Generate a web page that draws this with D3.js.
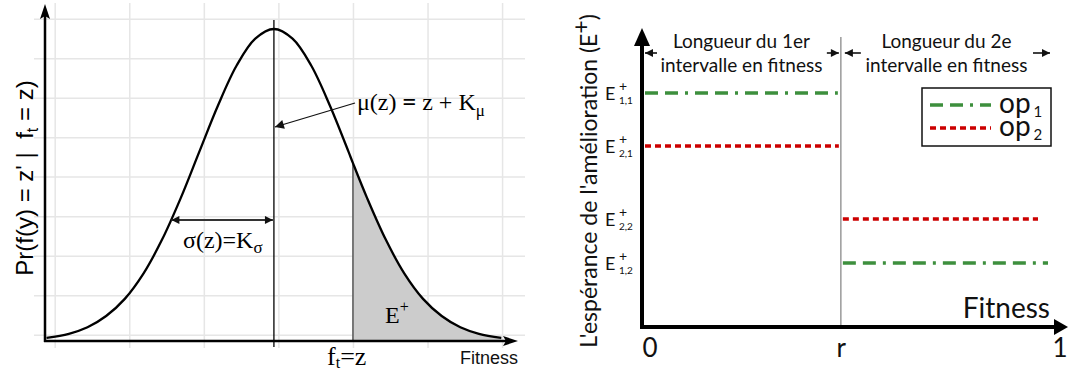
<!DOCTYPE html>
<html>
<head>
<meta charset="utf-8">
<script src="https://cdn.jsdelivr.net/npm/d3@7"></script>
<style>
  body { margin: 0; background: #fff; }
  svg { display: block; }
  text { white-space: pre; }
  .serif { font-family: "Liberation Serif", "DejaVu Serif", serif; }
  .sans { font-family: "Liberation Sans", Arial, sans-serif; }
  .cal { font-family: Lato, "Open Sans", sans-serif; }
  .grid line { stroke: #e6e6e6; stroke-width: 1.5; }
  .grid .domain { display: none; }
</style>
</head>
<body>
<svg id="chart" width="1068" height="373"></svg>
<script>
// ---- left panel: density of the offspring fitness (x in sigma units, mean = 0)
const fitX = [-3.05, -2.75, -2.5, -2.25, -2, -1.75, -1.5, -1.25, -1, -0.75, -0.5, -0.25, 0,
              0.25, 0.5, 0.75, 1, 1.06, 1.25, 1.5, 1.75, 2, 2.25, 2.5, 2.75, 3.05];
const density = [0.01, 0.023, 0.044, 0.08, 0.135, 0.216, 0.325, 0.458, 0.607, 0.755, 0.883, 0.969, 1,
                 0.969, 0.883, 0.755, 0.607, 0.57, 0.458, 0.325, 0.216, 0.135, 0.08, 0.044, 0.023, 0.01];
const meanFit = 0;
const ftFit = 1.06;
const sigmaFit = -1.375, sigmaLevel = 0.388;
const gridX = [-2.94, -1.94, -0.94, 0.06, 1.06, 2.06, 3.06];
const gridY = [0.02, 0.147, 0.273, 0.4, 0.527, 0.653, 0.78, 0.906, 1.033];

// ---- right panel: expected improvement of each operator on two fitness intervals
const bounds = [0, 0.485, 1];
const boundLabels = ["0", "r", "1"];
const op1 = [0.807, 0.221];
const op2 = [0.624, 0.372];
const opNames = ["op", "op"];
const intervalText = [["Longueur du 1er", "intervalle en fitness"], ["Longueur du 2e", "intervalle en fitness"]];

const svg = d3.select("#chart");
const defs = svg.append("defs");
function marker(id, w, h) {
  defs.append("marker").attr("id", id).attr("viewBox", "0 0 10 10")
    .attr("refX", 10).attr("refY", 5).attr("markerWidth", w).attr("markerHeight", h)
    .attr("markerUnits", "userSpaceOnUse").attr("orient", "auto-start-reverse")
    .append("path").attr("d", "M0,0 L10,5 L0,10 z").attr("fill", "#111");
}
marker("ah", 12, 9);
marker("ahs", 9, 8);

// ================= LEFT =================
const xL = d3.scaleLinear().domain([-3.07, 3.26]).range([45, 517]);
const yL = d3.scaleLinear().domain([0, 1]).range([341, 29]);

svg.append("g").attr("class", "grid").attr("transform", "translate(34,0)")
  .call(d3.axisLeft(yL).tickValues(gridY).tickSize(-491).tickFormat(""));
svg.append("g").attr("class", "grid").attr("transform", "translate(0,348)")
  .call(d3.axisBottom(xL).tickValues(gridX).tickSize(-345).tickFormat(""));

const pts = fitX.map((x, i) => ({ x: x, y: density[i] }));
const tail = pts.filter(d => d.x >= ftFit);

svg.append("path").datum(tail)
  .attr("d", d3.area().x(d => xL(d.x)).y0(yL(0)).y1(d => yL(d.y)).curve(d3.curveCatmullRom))
  .attr("fill", "#cccccc");

svg.append("line").attr("x1", xL(ftFit)).attr("x2", xL(ftFit))
  .attr("y1", yL(tail[0].y)).attr("y2", yL(0)).attr("stroke", "#555").attr("stroke-width", 1.5);

svg.append("line").attr("x1", xL(meanFit)).attr("x2", xL(meanFit))
  .attr("y1", 20).attr("y2", 347).attr("stroke", "#000").attr("stroke-width", 1.3);

svg.append("path").datum(pts)
  .attr("d", d3.line().x(d => xL(d.x)).y(d => yL(d.y)).curve(d3.curveCatmullRom))
  .attr("fill", "none").attr("stroke", "#000").attr("stroke-width", 2.3);

// axes with arrows
svg.append("line").attr("x1", 45).attr("x2", 45).attr("y1", 342).attr("y2", 16)
  .attr("stroke", "#000").attr("stroke-width", 2.5);
svg.append("path").attr("d", "M45,4 L40,19 L45,16 L50,19 Z").attr("fill", "#000");
svg.append("line").attr("x1", 44).attr("x2", 506).attr("y1", yL(0)).attr("y2", yL(0))
  .attr("stroke", "#000").attr("stroke-width", 2.5);
svg.append("path").attr("d", `M518,${yL(0)} L503,${yL(0) - 5} L506,${yL(0)} L503,${yL(0) + 5} Z`).attr("fill", "#000");

// sigma double arrow
svg.append("line").attr("x1", xL(sigmaFit)).attr("x2", xL(meanFit) - 1)
  .attr("y1", yL(sigmaLevel)).attr("y2", yL(sigmaLevel))
  .attr("stroke", "#333").attr("stroke-width", 2)
  .attr("marker-start", "url(#ahs)").attr("marker-end", "url(#ahs)");
const sigT = svg.append("text").attr("class", "serif").attr("x", 183).attr("y", 248)
  .attr("font-size", 24).text("σ(z)=K");
sigT.append("tspan").attr("font-size", 17).attr("dy", 5).text("σ");

// mu arrow
svg.append("line").attr("x1", 355).attr("y1", 103).attr("x2", xL(meanFit) + 1).attr("y2", 127)
  .attr("stroke", "#111").attr("stroke-width", 1.3).attr("marker-end", "url(#ah)");
const muT = svg.append("text").attr("class", "serif").attr("x", 357).attr("y", 110)
  .attr("font-size", 24).text("μ(z) ");
muT.append("tspan").attr("font-weight", "bold").text("=");
muT.append("tspan").text(" z + K");
muT.append("tspan").attr("font-size", 17).attr("dy", 6).text("μ");

// E+
const eT = svg.append("text").attr("class", "serif").attr("x", 385).attr("y", 323)
  .attr("font-size", 24).text("E");
eT.append("tspan").attr("font-size", 16).attr("dy", -11).text("+");

// ft = z
const fT = svg.append("text").attr("class", "serif").attr("x", 327).attr("y", 365)
  .attr("font-size", 26).text("f");
fT.append("tspan").attr("font-size", 16).attr("dy", 3).text("t");
fT.append("tspan").attr("dy", -3).text("=z");

svg.append("text").attr("class", "sans").attr("x", 460).attr("y", 364)
  .attr("font-size", 18).attr("fill", "#111").text("Fitness");

const yLab = svg.append("text").attr("class", "sans").attr("transform", "translate(33,178) rotate(-90)")
  .attr("text-anchor", "middle").attr("font-size", 24).text("Pr(f(y) = z' |  f");
yLab.append("tspan").attr("font-size", 16).attr("dy", 5).text("t");
yLab.append("tspan").attr("dy", -5).text(" = z)");

// ================= RIGHT =================
const xR = d3.scaleLinear().domain([0, 1]).range([642, 1052]);
const yR = d3.scaleLinear().domain([0, 1]).range([327, 37]);
const rX = xR(bounds[1]);

svg.append("line").attr("x1", rX).attr("x2", rX).attr("y1", 37).attr("y2", 327)
  .attr("stroke", "#999").attr("stroke-width", 1.5);

const green = "#3d8f3d", red = "#cc0000";
const dash1 = "13,7,13,7,3,7", dash2 = "6,4";

const segs = [];
[0, 1].forEach(i => {
  const a = xR(bounds[i]) + (i === 0 ? 3 : 2);
  segs.push({ x1: a, x2: xR(bounds[i + 1]) - (i === 0 ? 3 : 4), y: yR(op1[i]), c: green, d: dash1 });
  segs.push({ x1: a, x2: xR(bounds[i + 1]) - (i === 0 ? 2 : 14), y: yR(op2[i]), c: red, d: dash2 });
});
svg.append("g").selectAll("line").data(segs).join("line")
  .attr("x1", d => d.x1).attr("x2", d => d.x2).attr("y1", d => d.y).attr("y2", d => d.y)
  .attr("stroke", d => d.c).attr("stroke-width", 3.5).attr("stroke-dasharray", d => d.d);

// E labels on the y side
const eLabs = [
  { v: op1[0], sub: "1,1" }, { v: op2[0], sub: "2,1" },
  { v: op2[1], sub: "2,2" }, { v: op1[1], sub: "1,2" }
];
const eg = svg.append("g").attr("class", "cal").attr("fill", "#111");
eLabs.forEach(d => {
  const y = yR(d.v);
  eg.append("text").attr("x", 605).attr("y", y + 7).attr("font-size", 18).text("E");
  eg.append("text").attr("x", 619).attr("y", y - 2).attr("font-size", 14).text("+");
  eg.append("text").attr("x", 619).attr("y", y + 11).attr("font-size", 10).text(d.sub);
});

// axes
svg.append("line").attr("x1", 642).attr("x2", 642).attr("y1", 329).attr("y2", 44)
  .attr("stroke", "#000").attr("stroke-width", 4);
svg.append("path").attr("d", "M642,28 L634,46 L650,46 Z").attr("fill", "#000");
svg.append("line").attr("x1", 640).attr("x2", 1056).attr("y1", 327).attr("y2", 327)
  .attr("stroke", "#000").attr("stroke-width", 4);
svg.append("path").attr("d", "M1068,327 L1054,319 L1054,335 Z").attr("fill", "#000");

const anchors = ["start", "middle", "start"];
const xAx = svg.append("g").attr("transform", "translate(0,327)")
  .call(d3.axisBottom(xR).tickValues(bounds).tickFormat((d, i) => boundLabels[i]).tickSize(0).tickPadding(12));
xAx.select(".domain").remove();
xAx.selectAll("text").attr("class", "cal").attr("font-size", 26).attr("fill", "#111")
  .attr("text-anchor", (d, i) => anchors[i]);

svg.append("text").attr("class", "cal").attr("x", 1050).attr("y", 318)
  .attr("text-anchor", "end").attr("font-size", 28).attr("fill", "#111").text("Fitness");

// interval annotations
intervalText.forEach((t, i) => {
  const cx = (xR(bounds[i]) + xR(bounds[i + 1])) / 2;
  svg.append("text").attr("class", "cal").attr("x", cx).attr("y", 48)
    .attr("text-anchor", "middle").attr("font-size", 19).attr("fill", "#111").text(t[0]);
  svg.append("text").attr("class", "cal").attr("x", cx).attr("y", 72)
    .attr("text-anchor", "middle").attr("font-size", 19).attr("fill", "#111").text(t[1]);
});
const arrows = [
  { a: xR(bounds[0]) + 15, b: xR(bounds[0]) + 3 },
  { a: rX - 14, b: rX - 2 },
  { a: rX + 20, b: rX + 4 },
  { a: xR(bounds[2]) - 19, b: xR(bounds[2]) - 2 }
];
svg.append("g").selectAll("line").data(arrows).join("line")
  .attr("x1", d => d.a).attr("x2", d => d.b).attr("y1", 53).attr("y2", 53)
  .attr("stroke", "#111").attr("stroke-width", 1.6).attr("marker-end", "url(#ahs)");

// legend (both entries in one text block, stacked tightly as in the original)
const lg = svg.append("g");
lg.append("rect").attr("x", 922).attr("y", 88).attr("width", 129).attr("height", 58)
  .attr("fill", "#fff").attr("stroke", "#111").attr("stroke-width", 1.5);
const lgText = lg.append("text").attr("class", "cal").attr("font-size", 28).attr("fill", "#111");
[{ c: green, d: dash1 }, { c: red, d: dash2 }].forEach((s, i) => {
  const y = 105 + i * 23;
  lg.append("line").attr("x1", 930).attr("x2", 991).attr("y1", y).attr("y2", y)
    .attr("stroke", s.c).attr("stroke-width", 3.5).attr("stroke-dasharray", s.d);
  lgText.append("tspan").attr("x", 999).attr("y", y + 8).text(opNames[i]);
  lgText.append("tspan").attr("font-size", 15).attr("dx", 3).attr("dy", 4).text(String(i + 1));
});

const yR_lab = svg.append("text").attr("class", "cal").attr("transform", "translate(597,181) rotate(-90)")
  .attr("text-anchor", "middle").attr("font-size", 23).attr("fill", "#111")
  .text("L'espérance de l'amélioration (E");
yR_lab.append("tspan").attr("dy", -8).text("+");
yR_lab.append("tspan").attr("dy", 8).text(")");
</script>
</body>
</html>
